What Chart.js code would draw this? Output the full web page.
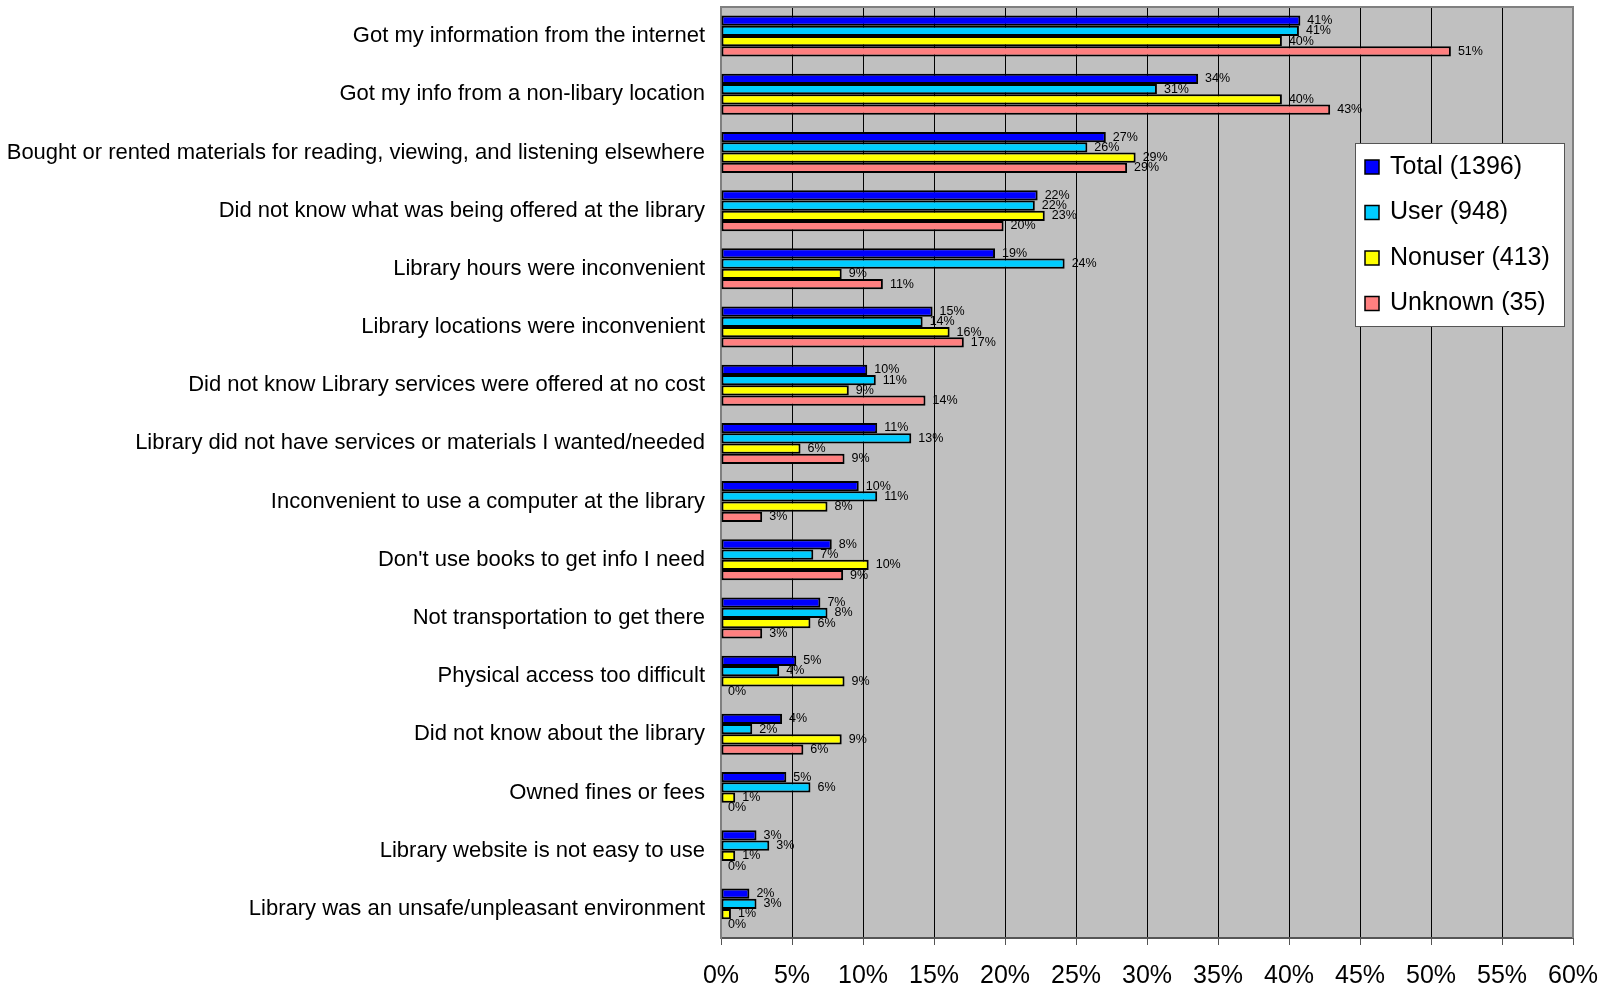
<!DOCTYPE html>
<html>
<head>
<meta charset="utf-8">
<title>Reasons for not using the library</title>
<script src="https://cdn.jsdelivr.net/npm/chart.js@4"></script>
<style>
    html, body { margin: 0; padding: 0; background: #fff; }
    #chart-wrap { width: 1610px; height: 987px; }
</style>
</head>
<body>
<div id="chart-wrap"><canvas id="reasons-chart" width="1610" height="987"></canvas></div>
<script>
// Reasons (one row per bar group, top to bottom)
const reasons = [
    'Got my information from the internet',
    'Got my info from a non-libary location',
    'Bought or rented materials for reading, viewing, and listening elsewhere',
    'Did not know what was being offered at the library',
    'Library hours were inconvenient',
    'Library locations were inconvenient',
    'Did not know Library services were offered at no cost',
    'Library did not have services or materials I wanted/needed',
    'Inconvenient to use a computer at the library',
    "Don't use books to get info I need",
    'Not transportation to get there',
    'Physical access too difficult',
    'Did not know about the library',
    'Owned fines or fees',
    'Library website is not easy to use',
    'Library was an unsafe/unpleasant environment'
];

// Percent of respondents in each group
const totalPct   = [40.8, 33.6, 27.1, 22.3, 19.3, 14.9, 10.3, 11.0, 9.7, 7.8, 7.0, 5.3, 4.3, 4.6, 2.5, 2.0];
const userPct    = [40.7, 30.7, 25.8, 22.1, 24.2, 14.2, 10.9, 13.4, 11.0, 6.5, 7.5, 4.1, 2.2, 6.3, 3.4, 2.5];
const nonuserPct = [39.5, 39.5, 29.2, 22.8, 8.5, 16.1, 9.0, 5.6, 7.5, 10.4, 6.3, 8.7, 8.5, 1.0, 1.0, 0.7];
const unknownPct = [51.4, 42.9, 28.6, 19.9, 11.4, 17.1, 14.4, 8.7, 2.9, 8.6, 2.9, 0, 5.8, 0, 0, 0];

const seriesNames = ['Total (1396)', 'User (948)', 'Nonuser (413)', 'Unknown (35)'];
const seriesColors = ['#0000FF', '#00CCFF', '#FFFF00', '#FF8080'];

// x axis runs 0..60 in steps of 5
const axisMax = 60;
const axisStep = 5;

const FONT = '"Liberation Sans", Arial, sans-serif';

// grey plot background plus its frame
const plotBackground = {
    id: 'plotBackground',
    beforeDraw(chart) {
        const { ctx, chartArea: a } = chart;
        ctx.save();
        ctx.fillStyle = '#C0C0C0';
        ctx.fillRect(a.left, a.top, a.right - a.left, a.bottom - a.top);
        ctx.restore();
    },
    beforeDatasetsDraw(chart) {
        const { ctx, chartArea: a } = chart;
        ctx.save();
        ctx.strokeStyle = '#808080';
        ctx.lineWidth = 2;
        ctx.beginPath();
        ctx.moveTo(a.left, a.top);
        ctx.lineTo(a.right, a.top);
        ctx.lineTo(a.right, a.bottom);
        ctx.stroke();
        ctx.restore();
    }
};

// percentage written just past the end of each bar
const barValueLabels = {
    id: 'barValueLabels',
    afterDatasetsDraw(chart) {
        const ctx = chart.ctx;
        ctx.save();
        ctx.font = '12.5px ' + FONT;
        ctx.fillStyle = '#000';
        ctx.textAlign = 'left';
        ctx.textBaseline = 'middle';
        chart.data.datasets.forEach((ds, i) => {
            chart.getDatasetMeta(i).data.forEach((bar, j) => {
                ctx.fillText(Math.round(ds.data[j]) + '%', bar.x + 7, bar.y);
            });
        });
        ctx.restore();
    }
};

// boxed legend sitting inside the plot on the right
const boxLegend = {
    id: 'boxLegend',
    afterDraw(chart) {
        const ctx = chart.ctx;
        const left = 1355, top = 143, width = 209, height = 183;
        ctx.save();
        ctx.fillStyle = '#fff';
        ctx.fillRect(left, top, width, height);
        ctx.strokeStyle = '#555';
        ctx.lineWidth = 1;
        ctx.strokeRect(left + 0.5, top + 0.5, width, height);

        ctx.font = '25px ' + FONT;
        ctx.textAlign = 'left';
        ctx.textBaseline = 'middle';
        chart.data.datasets.forEach((ds, i) => {
            const y = top + 24 + i * 45.5;
            ctx.fillStyle = ds.backgroundColor;
            ctx.fillRect(left + 10, y - 7, 14, 14);
            ctx.strokeStyle = '#000';
            ctx.lineWidth = 1.5;
            ctx.strokeRect(left + 10, y - 7, 14, 14);
            ctx.fillStyle = '#000';
            ctx.fillText(ds.label, left + 35, y);
        });
        ctx.restore();
    }
};

document.addEventListener('DOMContentLoaded', () => {
    const allSeries = [totalPct, userPct, nonuserPct, unknownPct];

    const datasets = allSeries.map((values, i) => ({
        label: seriesNames[i],
        data: values,
        backgroundColor: seriesColors[i],
        borderColor: '#000',
        borderWidth: 2,
        borderSkipped: false,
        categoryPercentage: 0.705,
        barPercentage: 1.0
    }));

    const ctx = document.getElementById('reasons-chart').getContext('2d');
    new Chart(ctx, {
        type: 'bar',
        data: { labels: reasons, datasets: datasets },
        options: {
            indexAxis: 'y',
            responsive: false,
            animation: false,
            layout: { padding: { top: 7, right: 37, left: 0, bottom: 0 } },
            plugins: {
                legend: { display: false },
                tooltip: { enabled: false }
            },
            scales: {
                x: {
                    min: 0,
                    max: axisMax,
                    afterFit: (scale) => {
                        scale.height = 49;
                        scale.paddingLeft = 0;
                        scale.paddingRight = 0;
                    },
                    ticks: {
                        stepSize: axisStep,
                        callback: (v) => v + '%',
                        font: { family: FONT, size: 25 },
                        color: '#000',
                        padding: 16,
                        maxRotation: 0
                    },
                    grid: {
                        color: '#000',
                        lineWidth: 1,
                        tickLength: 7,
                        tickColor: '#555'
                    },
                    border: { color: '#555', width: 2 }
                },
                y: {
                    afterFit: (scale) => {
                        scale.width = 721;
                        // no extra room above/below the first and last rows
                        scale.paddingTop = 0;
                        scale.paddingBottom = 0;
                    },
                    ticks: {
                        font: { family: FONT, size: 22 },
                        color: '#000',
                        padding: 16,
                        autoSkip: false
                    },
                    grid: { display: false, drawTicks: false },
                    border: { color: '#808080', width: 2 }
                }
            }
        },
        plugins: [plotBackground, barValueLabels, boxLegend]
    });
});
</script>
</body>
</html>
